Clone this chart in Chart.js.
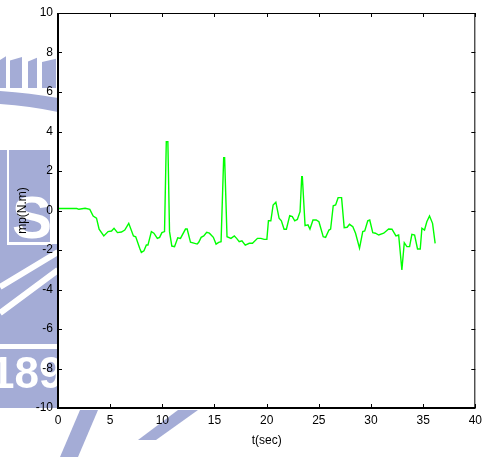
<!DOCTYPE html>
<html>
<head>
<meta charset="utf-8">
<script src="https://cdn.jsdelivr.net/npm/chart.js@4"></script>
<style>
  html, body { margin: 0; padding: 0; background: #fff; }
  #wrap { width: 487px; height: 457px; }
</style>
</head>
<body>
<div id="wrap"><canvas id="c" width="487" height="457"></canvas></div>
<script>
// Time samples (s) and torque mp (N.m)
const timeSec = [
  0, 1.8, 2.0, 2.6, 3.05, 3.37, 3.69, 3.94, 4.39, 4.80, 5.13, 5.37, 5.70, 6.08, 6.40, 6.78,
  7.23, 7.45, 7.83, 7.99, 8.24, 8.47, 8.62, 8.95, 9.19, 9.52, 9.74, 9.96, 10.21, 10.38, 10.53,
  10.69, 10.91, 11.17, 11.48, 11.74, 12.22, 12.38, 12.70, 13.34, 13.49, 13.72, 13.97, 14.25,
  14.51, 14.89, 15.15, 15.40, 15.63, 15.88, 15.97, 16.20, 16.58, 16.90, 17.12, 17.37, 17.63,
  17.95, 18.33, 18.64, 19.12, 19.45, 19.76, 20.02, 20.17, 20.40, 20.62, 20.88, 21.19, 21.41,
  21.67, 21.89, 22.21, 22.46, 22.69, 22.94, 23.20, 23.36, 23.42, 23.68, 23.96, 24.15, 24.44,
  24.75, 25.01, 25.42, 25.65, 25.97, 26.13, 26.38, 26.61, 26.85, 27.18, 27.43, 27.71, 27.94,
  28.26, 28.52, 28.90, 29.21, 29.40, 29.69, 29.88, 30.17, 30.43, 30.74, 31.22, 31.69, 32.01,
  32.39, 32.65, 32.96, 33.19, 33.44, 33.70, 33.92, 34.18, 34.46, 34.72, 34.88, 35.13, 35.35,
  35.61, 35.90, 36.15
];
const torque = [
  0.10, 0.10, 0.06, 0.11, 0.06, -0.28, -0.39, -0.95, -1.29, -1.07, -1.04, -0.90, -1.12, -1.09, -0.99, -0.65,
  -1.29, -1.33, -1.91, -2.12, -2.04, -1.75, -1.75, -1.07, -1.15, -1.41, -1.36, -1.12, -1.07, 3.48, 3.48,
  -1.07, -1.80, -1.83, -1.38, -1.41, -0.94, -0.94, -1.61, -1.70, -1.61, -1.36, -1.29, -1.10,
  -1.15, -1.36, -1.70, -1.61, -1.58, 2.67, 2.67, -1.33, -1.41, -1.29, -1.41, -1.58, -1.53,
  -1.75, -1.66, -1.66, -1.41, -1.41, -1.46, -1.46, -0.52, -0.52, 0.28, 0.42, -0.39, -0.52,
  -0.95, -0.95, -0.26, -0.31, -0.52, -0.45, -0.06, 1.71, 1.71, -0.77, -0.73, -0.94, -0.48,
  -0.48, -0.57, -1.33, -1.36, -0.99, -0.94, 0.24, 0.28, 0.65, 0.65, -0.87, -0.85, -0.70,
  -0.82, -1.15, -1.91, -1.07, -1.04, -0.52, -0.48, -1.12, -1.15, -1.24, -1.15, -0.94, -0.95,
  -1.29, -1.24, -3.01, -1.63, -1.83, -1.83, -1.21, -1.24, -1.95, -1.95, -0.90, -0.99, -0.57,
  -0.28, -0.65, -1.66
];
const xTicks = [0, 5, 10, 15, 20, 25, 30, 35, 40];
const yTicks = [-10, -8, -6, -4, -2, 0, 2, 4, 6, 8, 10];

const points = timeSec.map((t, i) => ({ x: t, y: torque[i] }));
const FONT = 'Liberation Sans, Arial, sans-serif';

// Faint seal drawn behind the axes, then white plot area on top of it
const backdrop = {
  id: 'backdrop',
  beforeDraw(chart) {
    const ctx = chart.ctx;
    const a = chart.chartArea;
    ctx.save();
    ctx.fillStyle = '#ffffff';
    ctx.fillRect(0, 0, chart.width, chart.height);
    const blue = 'rgb(164,172,214)';
    ctx.fillStyle = blue;
    // battlement bars
    [[0, 6], [10, 22], [28, 37], [42, 56]].forEach(([x0, x1]) => {
      ctx.beginPath();
      ctx.moveTo(x0, 60 + x0 * 0.05);
      ctx.lineTo(x1, 56 + x1 * 0.05);
      ctx.lineTo(x1, 88);
      ctx.lineTo(x0, 88);
      ctx.closePath();
      ctx.fill();
    });
    // arc band
    ctx.beginPath();
    ctx.moveTo(0, 91);
    ctx.quadraticCurveTo(30, 93, 58, 98);
    ctx.lineTo(58, 112);
    ctx.quadraticCurveTo(30, 106, 0, 104);
    ctx.closePath();
    ctx.fill();
    // main block
    ctx.fillRect(0, 150, 58, 258);
    ctx.fillStyle = '#ffffff';
    ctx.fillRect(7, 150, 2, 95);
    ctx.fillRect(7, 242, 45, 3);
    ctx.fillRect(50, 150, 8, 94);
    ctx.lineWidth = 6;
    ctx.strokeStyle = '#ffffff';
    ctx.beginPath();
    ctx.moveTo(0, 287); ctx.lineTo(58, 252);
    ctx.moveTo(0, 313); ctx.lineTo(58, 270);
    ctx.stroke();
    ctx.fillRect(0, 344, 58, 5);
    ctx.font = 'bold 60px ' + FONT;
    ctx.textBaseline = 'alphabetic';
    ctx.fillText('S', 12, 238);
    ctx.font = 'bold 44px ' + FONT;
    ctx.fillText('189', -10, 388);
    // rays below the axis
    ctx.fillStyle = blue;
    ctx.beginPath();
    ctx.moveTo(60, 457); ctx.lineTo(78, 457); ctx.lineTo(98, 410); ctx.lineTo(80, 410);
    ctx.closePath(); ctx.fill();
    ctx.beginPath();
    ctx.moveTo(138, 440); ctx.lineTo(156, 440); ctx.lineTo(198, 410); ctx.lineTo(178, 410);
    ctx.closePath(); ctx.fill();
    // plot area
    ctx.fillStyle = '#ffffff';
    ctx.fillRect(a.left, a.top, a.right - a.left, a.bottom - a.top);
    ctx.restore();
  }
};

// Box frame with inward tick marks on all four sides
const frame = {
  id: 'frame',
  afterDraw(chart) {
    const ctx = chart.ctx;
    const a = chart.chartArea;
    const xs = chart.scales.x, ys = chart.scales.y;
    const L = 4;
    ctx.save();
    ctx.strokeStyle = '#000';
    ctx.lineWidth = 1;
    ctx.beginPath();
    ctx.moveTo(a.left, a.top + 0.5); ctx.lineTo(a.right, a.top + 0.5);
    ctx.moveTo(a.right - 0.5, a.top); ctx.lineTo(a.right - 0.5, a.bottom);
    xTicks.forEach(v => {
      const p = Math.round(xs.getPixelForValue(v)) + 0.5;
      ctx.moveTo(p, a.bottom); ctx.lineTo(p, a.bottom - L);
      ctx.moveTo(p, a.top); ctx.lineTo(p, a.top + L);
    });
    yTicks.forEach(v => {
      const p = Math.round(ys.getPixelForValue(v)) + 0.5;
      ctx.moveTo(a.left, p); ctx.lineTo(a.left + L, p);
      ctx.moveTo(a.right, p); ctx.lineTo(a.right - L, p);
    });
    ctx.stroke();
    ctx.lineWidth = 2;
    ctx.beginPath();
    ctx.moveTo(a.left, a.top); ctx.lineTo(a.left, a.bottom); ctx.lineTo(a.right, a.bottom);
    ctx.stroke();
    ctx.restore();
  }
};

new Chart(document.getElementById('c'), {
  type: 'scatter',
  data: {
    datasets: [{
      data: points,
      showLine: true,
      borderColor: '#00ff00',
      borderWidth: 1.4,
      pointRadius: 0,
      tension: 0,
      fill: false
    }]
  },
  options: {
    responsive: false,
    animation: false,
    devicePixelRatio: 1,
    layout: { padding: { top: 13, right: 10, left: 0, bottom: 0 } },
    plugins: { legend: { display: false }, tooltip: { enabled: false } },
    scales: {
      x: {
        type: 'linear', min: 0, max: 40,
        afterBuildTicks: s => { s.ticks = xTicks.map(v => ({ value: v })); },
        afterFit: s => { s.height = 49; },
        grid: { display: false, drawTicks: false },
        border: { display: false },
        ticks: { color: '#000', padding: 5, font: { family: FONT, size: 12 } },
        title: { display: true, text: 't(sec)', color: '#000', padding: { top: 0, bottom: 9 }, font: { family: FONT, size: 12 } }
      },
      y: {
        type: 'linear', min: -10, max: 10,
        afterBuildTicks: s => { s.ticks = yTicks.map(v => ({ value: v })); },
        afterFit: s => { s.width = 58; },
        grid: { display: false, drawTicks: false },
        border: { display: false },
        ticks: { color: '#000', padding: 5, font: { family: FONT, size: 12 } },
        title: { display: true, text: 'mp(N.m)', color: '#000', padding: { top: 15, bottom: 0 }, font: { family: FONT, size: 12 } }
      }
    }
  },
  plugins: [backdrop, frame]
});
</script>
</body>
</html>
